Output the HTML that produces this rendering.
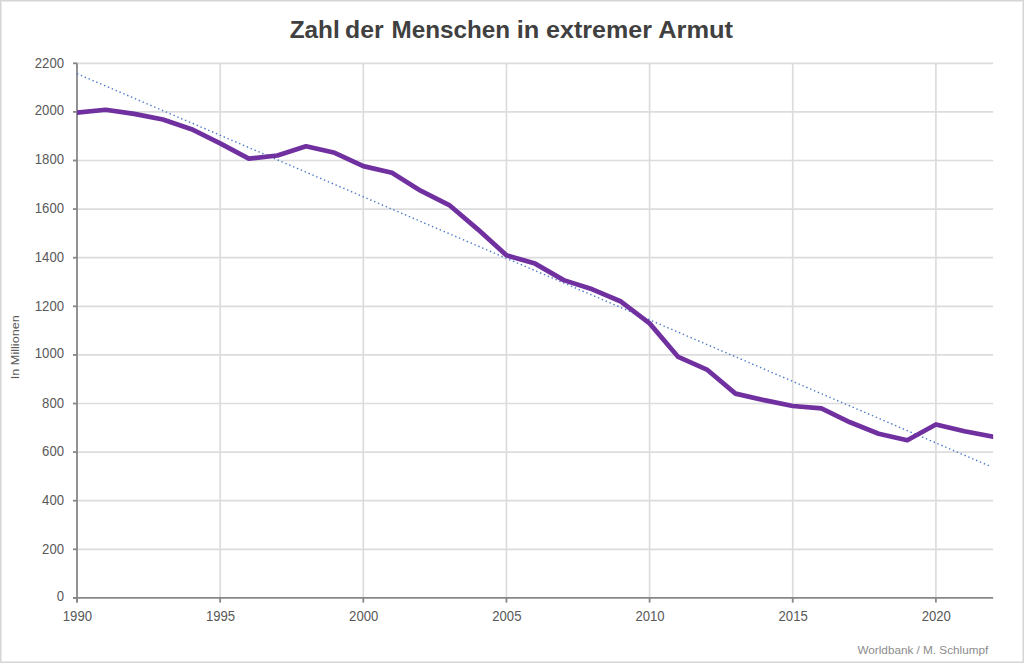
<!DOCTYPE html>
<html><head><meta charset="utf-8"><style>
html,body{margin:0;padding:0;background:#fff;}
body{width:1024px;height:663px;overflow:hidden;position:relative;}
svg{position:absolute;left:0;top:0;}
text{font-family:"Liberation Sans",sans-serif;}
</style></head><body>
<svg width="1024" height="663" viewBox="0 0 1024 663">
<rect x="0.5" y="0.5" width="1023" height="662" fill="#fff" stroke="#d5d5d5" stroke-width="1"/><rect x="1.5" y="1.5" width="1021" height="660" fill="none" stroke="#eaeaea" stroke-width="1"/>
<g font-size="23.7" font-weight="bold" fill="#404040"><text x="289.70" y="38.3" textLength="50.10" lengthAdjust="spacingAndGlyphs">Zahl</text><text x="345.00" y="38.3" textLength="38.60" lengthAdjust="spacingAndGlyphs">der</text><text x="391.50" y="38.3" textLength="118.70" lengthAdjust="spacingAndGlyphs">Menschen</text><text x="516.70" y="38.3" textLength="22.60" lengthAdjust="spacingAndGlyphs">in</text><text x="546.10" y="38.3" textLength="105.90" lengthAdjust="spacingAndGlyphs">extremer</text><text x="658.20" y="38.3" textLength="74.90" lengthAdjust="spacingAndGlyphs">Armut</text></g>
<g stroke="#dcdcdc" stroke-width="1.7">
<line x1="77.0" y1="549.30" x2="993.16" y2="549.30"/><line x1="77.0" y1="500.70" x2="993.16" y2="500.70"/><line x1="77.0" y1="452.10" x2="993.16" y2="452.10"/><line x1="77.0" y1="403.50" x2="993.16" y2="403.50"/><line x1="77.0" y1="354.90" x2="993.16" y2="354.90"/><line x1="77.0" y1="306.30" x2="993.16" y2="306.30"/><line x1="77.0" y1="257.70" x2="993.16" y2="257.70"/><line x1="77.0" y1="209.10" x2="993.16" y2="209.10"/><line x1="77.0" y1="160.50" x2="993.16" y2="160.50"/><line x1="77.0" y1="111.90" x2="993.16" y2="111.90"/><line x1="77.0" y1="63.30" x2="993.16" y2="63.30"/>
<line x1="220.15" y1="63.30" x2="220.15" y2="597.9"/><line x1="363.30" y1="63.30" x2="363.30" y2="597.9"/><line x1="506.45" y1="63.30" x2="506.45" y2="597.9"/><line x1="649.60" y1="63.30" x2="649.60" y2="597.9"/><line x1="792.75" y1="63.30" x2="792.75" y2="597.9"/><line x1="935.90" y1="63.30" x2="935.90" y2="597.9"/>
</g>
<g stroke="#878787" stroke-width="1.8">
<line x1="77.0" y1="63.30" x2="77.0" y2="602.6"/>
<line x1="73" y1="597.9" x2="993.16" y2="597.9"/>
<line x1="73" y1="597.90" x2="77.0" y2="597.90"/><line x1="73" y1="549.30" x2="77.0" y2="549.30"/><line x1="73" y1="500.70" x2="77.0" y2="500.70"/><line x1="73" y1="452.10" x2="77.0" y2="452.10"/><line x1="73" y1="403.50" x2="77.0" y2="403.50"/><line x1="73" y1="354.90" x2="77.0" y2="354.90"/><line x1="73" y1="306.30" x2="77.0" y2="306.30"/><line x1="73" y1="257.70" x2="77.0" y2="257.70"/><line x1="73" y1="209.10" x2="77.0" y2="209.10"/><line x1="73" y1="160.50" x2="77.0" y2="160.50"/><line x1="73" y1="111.90" x2="77.0" y2="111.90"/><line x1="73" y1="63.30" x2="77.0" y2="63.30"/><line x1="77.00" y1="597.9" x2="77.00" y2="602.6"/><line x1="220.15" y1="597.9" x2="220.15" y2="602.6"/><line x1="363.30" y1="597.9" x2="363.30" y2="602.6"/><line x1="506.45" y1="597.9" x2="506.45" y2="602.6"/><line x1="649.60" y1="597.9" x2="649.60" y2="602.6"/><line x1="792.75" y1="597.9" x2="792.75" y2="602.6"/><line x1="935.90" y1="597.9" x2="935.90" y2="602.6"/>
</g>
<line x1="77.00" y1="73.70" x2="990.80" y2="466.54" stroke="#4a77c8" stroke-width="1.4" stroke-dasharray="1.4 2.8"/>
<defs><clipPath id="pa"><rect x="77.0" y="0" width="916.16" height="663"/></clipPath></defs>
<polyline clip-path="url(#pa)" points="77.00,112.70 105.63,109.78 134.26,113.91 162.89,119.50 191.52,129.22 220.15,143.32 248.78,158.63 277.41,155.47 306.04,146.23 334.67,152.79 363.30,166.16 391.93,172.72 420.56,190.70 449.19,205.04 477.82,229.34 506.45,255.34 535.08,263.60 563.71,280.13 592.34,289.36 620.97,301.51 649.60,323.38 678.23,356.91 706.86,369.55 735.49,393.61 764.12,400.17 792.75,406.00 821.38,408.43 850.01,422.28 878.64,433.70 907.27,440.26 935.90,424.47 964.53,431.27 993.16,436.62" fill="none" stroke="#7030a0" stroke-width="4.7" stroke-linejoin="round" stroke-linecap="square"/>
<g font-size="14" fill="#595959" text-anchor="end">
<text x="64.0" y="601.00" textLength="7.3" lengthAdjust="spacingAndGlyphs">0</text><text x="64.0" y="553.90" textLength="21.9" lengthAdjust="spacingAndGlyphs">200</text><text x="64.0" y="505.30" textLength="21.9" lengthAdjust="spacingAndGlyphs">400</text><text x="64.0" y="456.30" textLength="21.9" lengthAdjust="spacingAndGlyphs">600</text><text x="64.0" y="407.60" textLength="21.9" lengthAdjust="spacingAndGlyphs">800</text><text x="64.0" y="358.00" textLength="29.2" lengthAdjust="spacingAndGlyphs">1000</text><text x="64.0" y="310.90" textLength="29.2" lengthAdjust="spacingAndGlyphs">1200</text><text x="64.0" y="262.30" textLength="29.2" lengthAdjust="spacingAndGlyphs">1400</text><text x="64.0" y="212.80" textLength="29.2" lengthAdjust="spacingAndGlyphs">1600</text><text x="64.0" y="163.80" textLength="29.2" lengthAdjust="spacingAndGlyphs">1800</text><text x="64.0" y="115.30" textLength="29.2" lengthAdjust="spacingAndGlyphs">2000</text><text x="64.0" y="67.90" textLength="29.2" lengthAdjust="spacingAndGlyphs">2200</text>
</g>
<g font-size="14" fill="#595959" text-anchor="middle">
<text x="77.40" y="621" textLength="29.2" lengthAdjust="spacingAndGlyphs">1990</text><text x="220.55" y="621" textLength="29.2" lengthAdjust="spacingAndGlyphs">1995</text><text x="363.70" y="621" textLength="29.2" lengthAdjust="spacingAndGlyphs">2000</text><text x="506.85" y="621" textLength="29.2" lengthAdjust="spacingAndGlyphs">2005</text><text x="650.00" y="621" textLength="29.2" lengthAdjust="spacingAndGlyphs">2010</text><text x="793.15" y="621" textLength="29.2" lengthAdjust="spacingAndGlyphs">2015</text><text x="936.30" y="621" textLength="29.2" lengthAdjust="spacingAndGlyphs">2020</text>
</g>
<text transform="translate(19.3,379.2) rotate(-90)" x="0" y="0" textLength="64" lengthAdjust="spacingAndGlyphs" font-size="11.7" fill="#595959">In Millionen</text>
<text x="857.5" y="653.9" textLength="130.7" lengthAdjust="spacingAndGlyphs" font-size="11.2" fill="#8c8c8c">Worldbank / M. Schlumpf</text>
</svg>
</body></html>
